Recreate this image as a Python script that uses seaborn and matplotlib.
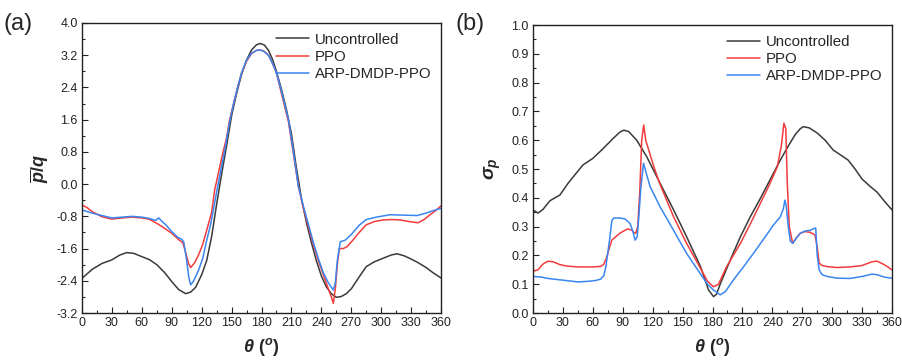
import numpy as np
import pandas as pd
import matplotlib
matplotlib.use("Agg")
import matplotlib.pyplot as plt
from matplotlib.ticker import MultipleLocator, FormatStrFormatter
import seaborn as sns

# ---- data ----
series_names = ["Uncontrolled", "PPO", "ARP-DMDP-PPO"]

# panel (a): mean pressure coefficient
a_unc_theta = [0, 10, 20, 30, 38, 45, 52, 60, 68, 75, 83, 90, 97, 104, 109, 114, 120, 125, 130,
               135, 140, 145, 150, 155, 160, 165, 170, 175, 179, 183, 187, 191, 195, 200, 205, 210,
               215, 220, 225, 230, 235, 240, 245, 250, 255, 260, 265, 270, 278, 285, 293, 302, 310,
               316, 323, 330, 337, 345, 352, 360]
a_unc_val = [-2.34, -2.12, -1.97, -1.88, -1.76, -1.70, -1.72, -1.80, -1.88, -2.00, -2.20, -2.42,
             -2.62, -2.72, -2.68, -2.56, -2.25, -1.90, -1.30, -0.50, 0.25, 0.95, 1.70, 2.25, 2.72,
             3.08, 3.33, 3.46, 3.49, 3.45, 3.32, 3.10, 2.80, 2.35, 1.85, 1.25, 0.40, -0.35, -0.95,
             -1.45, -1.90, -2.28, -2.55, -2.72, -2.81, -2.79, -2.72, -2.60, -2.30, -2.05, -1.93,
             -1.84, -1.76, -1.73, -1.78, -1.86, -1.95, -2.07, -2.20, -2.33]

a_ppo_theta = [0, 5, 10, 20, 30, 40, 50, 60, 67, 72, 80, 90, 97, 101, 104, 107, 109, 113, 117, 121,
               125, 130, 133, 137, 141, 145, 148, 152, 156, 160, 165, 170, 175, 178, 182, 187, 191,
               195, 200, 204, 207, 212, 217, 222, 227, 232, 237, 242, 247, 250, 252, 254, 256, 258,
               262, 266, 272, 278, 285, 293, 302, 311, 319, 328, 337, 343, 349, 355, 360]
a_ppo_val = [-0.52, -0.58, -0.68, -0.81, -0.87, -0.84, -0.82, -0.84, -0.87, -0.93, -1.05, -1.22,
             -1.38, -1.45, -1.70, -1.98, -2.07, -1.95, -1.75, -1.50, -1.15, -0.70, -0.15, 0.30,
             0.75, 1.15, 1.59, 2.00, 2.40, 2.76, 3.05, 3.24, 3.32, 3.33, 3.31, 3.20, 3.00, 2.76,
             2.25, 1.85, 1.55, 0.75, -0.06, -0.60, -1.05, -1.50, -1.90, -2.25, -2.60, -2.80, -2.96,
             -2.60, -2.00, -1.60, -1.60, -1.55, -1.38, -1.20, -1.01, -0.93, -0.89, -0.88, -0.89,
             -0.93, -0.96, -0.88, -0.76, -0.65, -0.54]

a_arp_theta = [0, 10, 20, 30, 40, 50, 60, 67, 71, 74, 77, 80, 84, 90, 96, 100, 102, 105, 107, 109,
               112, 117, 121, 125, 129, 132, 136, 140, 144, 148, 152, 156, 160, 165, 170, 175, 178,
               182, 187, 191, 195, 200, 204, 207, 212, 217, 222, 227, 232, 237, 242, 247, 252, 254,
               256, 259, 264, 270, 278, 285, 295, 309, 322, 336, 345, 352, 360]
a_arp_val = [-0.64, -0.72, -0.78, -0.84, -0.82, -0.80, -0.82, -0.85, -0.88, -0.90, -0.84, -0.92,
             -1.01, -1.18, -1.32, -1.37, -1.43, -1.90, -2.30, -2.50, -2.40, -2.13, -1.85, -1.40,
             -1.00, -0.60, -0.06, 0.45, 0.95, 1.55, 2.00, 2.40, 2.76, 3.08, 3.25, 3.32, 3.33, 3.30,
             3.20, 3.00, 2.76, 2.30, 1.90, 1.60, 0.80, -0.06, -0.55, -1.00, -1.45, -1.85, -2.20,
             -2.45, -2.63, -2.45, -1.90, -1.43, -1.39, -1.25, -1.02, -0.88, -0.82, -0.76, -0.77,
             -0.78, -0.72, -0.66, -0.60]

# panel (b): pressure fluctuation
b_unc_theta = [0, 5, 10, 17, 27, 35, 42, 50, 60, 70, 80, 87, 91, 96, 104, 114, 127.5, 141, 154,
               168, 176, 181, 184, 188, 201, 208, 218, 228, 240, 248, 256, 263, 268, 271, 277, 285,
               293, 301, 308, 316, 323, 330, 338, 345, 352, 360]
b_unc_val = [0.358, 0.347, 0.360, 0.390, 0.410, 0.450, 0.480, 0.514, 0.537, 0.570, 0.605, 0.628,
             0.635, 0.630, 0.600, 0.543, 0.450, 0.358, 0.265, 0.161, 0.080, 0.057, 0.065, 0.103,
             0.210, 0.265, 0.335, 0.398, 0.478, 0.531, 0.580, 0.620, 0.640, 0.647, 0.643, 0.625,
             0.600, 0.566, 0.550, 0.531, 0.500, 0.465, 0.440, 0.420, 0.390, 0.358]

b_ppo_theta = [0, 5, 10, 15, 20, 27, 34, 45, 60, 68, 71, 74, 76, 79, 83, 87, 91, 95, 99, 101, 103,
               105, 107, 109, 111, 113, 117, 121, 127, 141, 154, 167, 175, 181, 186, 194, 208,
               218, 228, 237, 245, 249, 251.6, 253.5, 255, 257, 260.4, 264, 268, 273, 278,
               282.8, 285, 287, 290, 295, 305, 318, 330, 340, 345, 350, 355, 360]
b_ppo_val = [0.145, 0.150, 0.170, 0.180, 0.178, 0.168, 0.163, 0.160, 0.160, 0.162, 0.170, 0.195,
             0.220, 0.253, 0.265, 0.277, 0.285, 0.292, 0.288, 0.280, 0.277, 0.300, 0.420, 0.600,
             0.653, 0.600, 0.555, 0.510, 0.450, 0.334, 0.242, 0.161, 0.110, 0.091, 0.100, 0.160,
             0.242, 0.310, 0.381, 0.445, 0.508, 0.580, 0.659, 0.640, 0.450, 0.300, 0.242, 0.260,
             0.277, 0.283, 0.280, 0.271, 0.230, 0.173, 0.165, 0.161, 0.158, 0.160, 0.165, 0.178,
             0.180, 0.172, 0.162, 0.150]

b_arp_theta = [0, 8, 15, 25, 35, 45, 55, 63, 68, 71, 73, 75, 77, 79, 81, 87, 92, 97.3, 100,
               102.3, 104.5, 106, 108, 110.8, 114, 117.3, 127.4, 140.8, 154, 167.5, 175, 181, 187.8,
               193, 201, 211, 221, 234, 241, 248, 251, 252.6, 254, 256, 258, 260.4, 264, 268,
               273, 278, 282, 283.5, 285, 287, 290, 295, 305, 318, 330, 340, 345, 352, 360]
b_arp_val = [0.127, 0.125, 0.120, 0.116, 0.112, 0.108, 0.110, 0.113, 0.118, 0.130, 0.160, 0.210,
             0.260, 0.320, 0.330, 0.330, 0.327, 0.311, 0.285, 0.253, 0.265, 0.330, 0.430, 0.520,
             0.480, 0.440, 0.369, 0.288, 0.207, 0.138, 0.100, 0.080, 0.063, 0.075, 0.115, 0.160,
             0.207, 0.270, 0.305, 0.334, 0.362, 0.392, 0.370, 0.300, 0.250, 0.242, 0.260, 0.277,
             0.285, 0.287, 0.294, 0.295, 0.200, 0.149, 0.133, 0.127, 0.121, 0.120, 0.127, 0.135,
             0.133, 0.125, 0.121]

x_ticks = list(range(0, 361, 30))
a_yticks = [-3.2, -2.4, -1.6, -0.8, 0.0, 0.8, 1.6, 2.4, 3.2, 4.0]
b_yticks = [0.0, 0.1, 0.2, 0.3, 0.4, 0.5, 0.6, 0.7, 0.8, 0.9, 1.0]


def make_df(thetas, vals):
    frames = []
    for name, t, v in zip(series_names, thetas, vals):
        frames.append(pd.DataFrame({"theta": t, "value": v, "series": name}))
    return pd.concat(frames, ignore_index=True)


df_a = make_df([a_unc_theta, a_ppo_theta, a_arp_theta], [a_unc_val, a_ppo_val, a_arp_val])
df_b = make_df([b_unc_theta, b_ppo_theta, b_arp_theta], [b_unc_val, b_ppo_val, b_arp_val])

# ---- style ----
sns.set_theme(style="ticks")
plt.rcParams["font.family"] = ["Liberation Sans", "DejaVu Sans"]
plt.rcParams["mathtext.fontset"] = "custom"
plt.rcParams["mathtext.it"] = "Liberation Sans:italic:bold"
plt.rcParams["mathtext.rm"] = "Liberation Sans:bold"
plt.rcParams["mathtext.bf"] = "Liberation Sans:bold"

palette = {"Uncontrolled": "#3a3a3a", "PPO": "#f23c3c", "ARP-DMDP-PPO": "#3a86f0"}

fig = plt.figure(figsize=(9.03, 3.63), dpi=100)
ax_a = fig.add_axes([0.0908, 0.1377, 0.3976, 0.7990])
ax_b = fig.add_axes([0.5903, 0.1377, 0.3975, 0.7933])

for ax, df, yt, ylim, ymin in [
    (ax_a, df_a, a_yticks, (-3.2, 4.0), 0.4),
    (ax_b, df_b, b_yticks, (0.0, 1.0), 0.05),
]:
    sns.lineplot(data=df, x="theta", y="value", hue="series", hue_order=series_names,
                 palette=palette, estimator=None, sort=False, linewidth=1.1, ax=ax)
    ax.set_xlim(0, 360)
    ax.set_ylim(*ylim)
    ax.set_xticks(x_ticks)
    ax.xaxis.set_minor_locator(MultipleLocator(15))
    ax.set_yticks(yt)
    ax.yaxis.set_minor_locator(MultipleLocator(ymin))
    ax.yaxis.set_major_formatter(FormatStrFormatter("%.1f"))
    ax.tick_params(which="major", direction="in", length=4, width=0.8, labelsize=9,
                   colors="#222222", pad=3)
    ax.tick_params(which="minor", direction="in", length=2.2, width=0.8)
    for s in ax.spines.values():
        s.set_linewidth(1.0)
        s.set_color("#222222")
    ax.set_xlabel(r"$\theta$ $(^o)$", fontsize=13, labelpad=5)
    leg = ax.legend(loc="upper right", frameon=False, fontsize=10.8, handlelength=2.2,
                    handletextpad=0.35, labelspacing=0.22, borderaxespad=0.25,
                    bbox_to_anchor=(1.0, 1.0))
    for line in leg.get_lines():
        line.set_linewidth(1.1)

ax_a.set_ylabel(r"$\overline{p}/q$", fontsize=13, labelpad=4)
ax_b.set_ylabel(r"$\sigma_p$", fontsize=14, labelpad=6)

fig.text(0.004, 0.935, "(a)", fontsize=17, ha="left", va="center")
fig.text(0.504, 0.935, "(b)", fontsize=17, ha="left", va="center")

fig.savefig("out.png", dpi=100, facecolor="white")
